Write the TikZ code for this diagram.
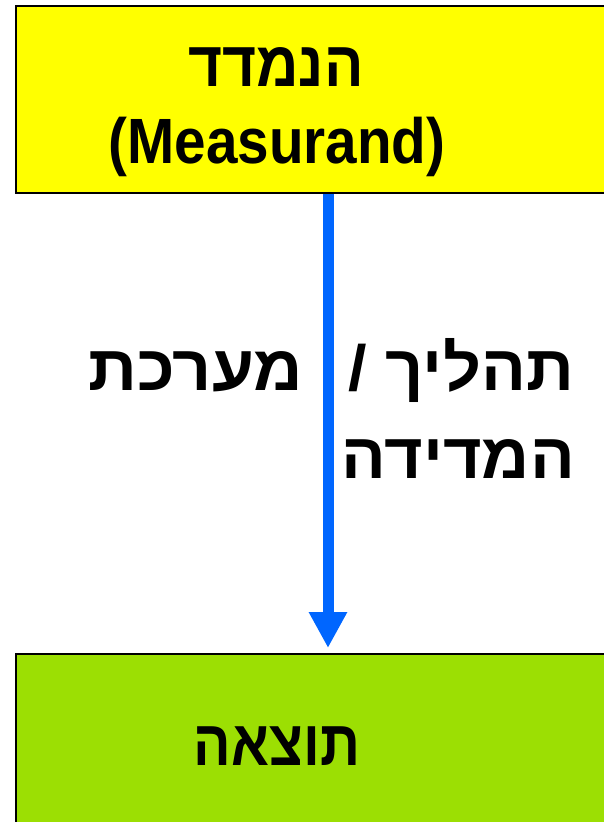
\documentclass[tikz,border=0pt]{standalone}
\usepackage{fontspec}
\setmainfont{Liberation Sans}
\newfontfamily\hebfont[Script=Hebrew]{Liberation Sans}
\TeXXeTstate=1
\usetikzlibrary{arrows.meta}
\definecolor{boxyellow}{HTML}{FFFF00}
\definecolor{boxgreen}{HTML}{9CDF03}
\definecolor{arrowblue}{HTML}{0066FF}
\tikzset{
  box/.style={draw=black, line width=2pt},
  lbl/.style={font=\hebfont\bfseries\fontsize{64}{76}\selectfont, inner sep=0pt},
  flow/.style={draw=arrowblue, line width=11pt, -{Triangle[length=36pt,width=36pt]}}
}
\begin{document}
\begin{tikzpicture}[x=1pt,y=-1pt]
\useasboundingbox (0,0) rectangle (604,822);
\path[box, fill=boxyellow] (16,6) rectangle (620,193);
\path[box, fill=boxgreen] (16,654) rectangle (620,840);
\node[lbl, anchor=base] (t1) at (276,86) {\scalebox{0.915}[1]{\beginR הנמדד\endR}};
\node[lbl, anchor=base] (t2) at (277,163) {\scalebox{0.885}[1]{(Measurand)}};
\node[lbl, anchor=base] (res) at (277,765) {\scalebox{0.87}[1]{\beginR תוצאה\endR}};
\node[lbl, anchor=base east] (m1) at (574,390) {\scalebox{1.04}[1]{\beginR תהליך /\endR}};
\node[lbl, anchor=base west] (m2) at (88,390) {\scalebox{1.065}[1]{\beginR מערכת\endR}};
\node[lbl, anchor=base east] (m3) at (575,478) {\scalebox{1.036}[1]{\beginR המדידה\endR}};
\coordinate (a1) at (328,194);
\coordinate (a2) at (328,648);
\draw[flow] (a1) -- (a2);
\end{tikzpicture}
\end{document}
